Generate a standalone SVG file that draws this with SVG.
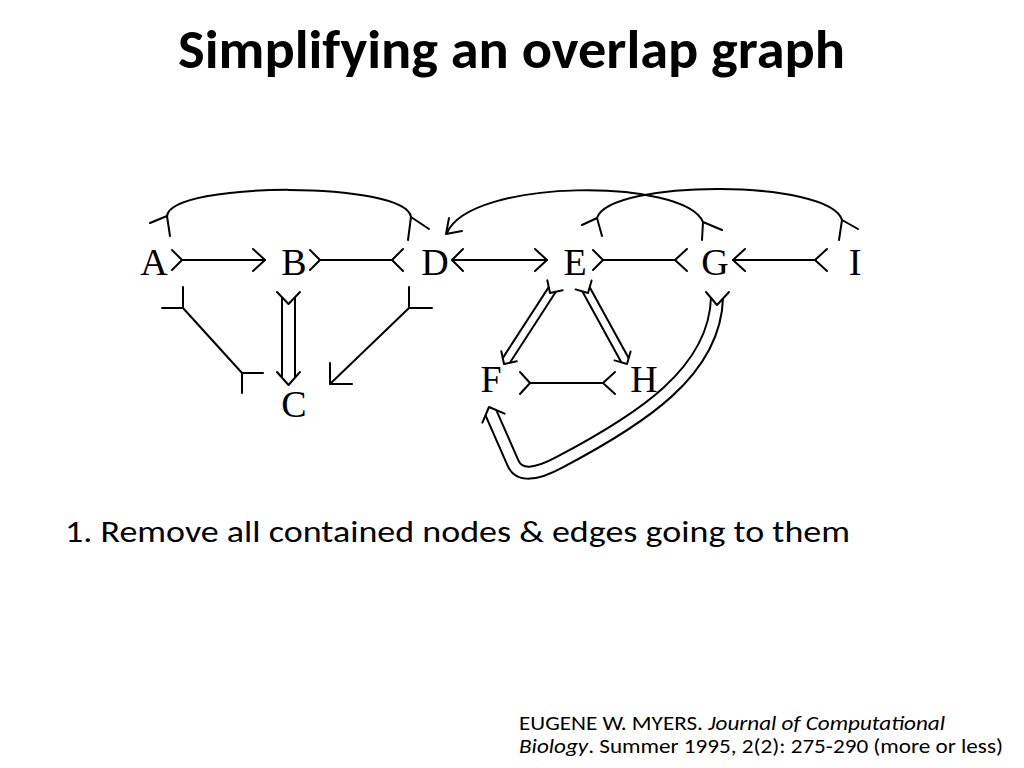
<svg xmlns="http://www.w3.org/2000/svg" width="1024" height="768" viewBox="0 0 1024 768">
<style>
.ln{stroke:#000;stroke-width:2;fill:none;stroke-linecap:round;stroke-linejoin:round}
.dbo{stroke:#000;fill:none;stroke-linecap:butt;stroke-linejoin:round}
.dbi{stroke:#fff;fill:none;stroke-linecap:butt;stroke-linejoin:round}
.node{font-family:"Liberation Serif","Times New Roman",serif;font-size:38px;text-anchor:middle;fill:#000}
.sans{font-family:Carlito,Lato,"Open Sans",sans-serif;fill:#000}
</style>
<rect width="1024" height="768" fill="#fff"/>
<text class="sans" x="178" y="68" font-size="54" font-weight="bold" textLength="667" lengthAdjust="spacingAndGlyphs">Simplifying an overlap graph</text>

<g id="connectors">
  <g id="edge-B-C">
    <path class="dbo" stroke-width="15" d="M288.5,297 L288.5,378"/>
    <path class="dbi" stroke-width="11" d="M288.5,296.5 L288.5,378.5"/>
    <polyline class="ln" points="277,292 288.5,304 300,292"/>
    <polyline class="ln" points="277,372 288.5,385 300,372"/>
  </g>
  <g id="edge-E-F">
    <path class="dbo" stroke-width="10.5" d="M552.3,289.4 L506.3,360.4"/>
    <path class="dbi" stroke-width="6.5" d="M552.6,288.9 L506,360.9"/>
    <polyline class="ln" points="547.3,280.3 550,293 562.7,290.3"/>
    <polyline class="ln" points="501.3,351.3 504,364 516.7,361.3"/>
  </g>
  <g id="edge-E-H">
    <path class="dbo" stroke-width="10.5" d="M586,289.3 L625,360.3"/>
    <path class="dbi" stroke-width="6.5" d="M585.7,288.8 L625.3,360.8"/>
    <polyline class="ln" points="591.6,280.5 588,293 575.5,289.4"/>
    <polyline class="ln" points="630.6,351.5 627,364 614.5,360.4"/>
  </g>
  <g id="edge-G-F">
    <path class="dbo" stroke-width="14" d="M717,298 C715,372 640,420 560,462 C536,475 519,477 513,463 L491,413"/>
    <path class="dbi" stroke-width="10" d="M717,297.5 C715,372 640,420 560,462 C536,475 519,477 513,463 L490.8,412.5"/>
    <polyline class="ln" points="706,292 717,305 729,292"/>
    <polyline class="ln" points="482.4,422.6 489,407 504.6,413.6"/>
  </g>

  <g id="edge-A-B">
    <polyline class="ln" points="172,250 182,260 172,270"/>
    <line class="ln" x1="182" y1="260" x2="265" y2="260"/>
    <polyline class="ln" points="253,249 265,260 253,271"/>
  </g>
  <g id="edge-B-D">
    <polyline class="ln" points="310,250 320,260 310,270"/>
    <line class="ln" x1="320" y1="260" x2="392" y2="260"/>
    <polyline class="ln" points="403,249 392,260 403,271"/>
  </g>
  <g id="edge-D-E">
    <polyline class="ln" points="463,249 452,260 463,271"/>
    <line class="ln" x1="452" y1="260" x2="547" y2="260"/>
    <polyline class="ln" points="535,249 547,260 535,271"/>
  </g>
  <g id="edge-E-G">
    <polyline class="ln" points="593,250 603,260 593,270"/>
    <line class="ln" x1="603" y1="260" x2="675" y2="260"/>
    <polyline class="ln" points="687,249 675,260 687,271"/>
  </g>
  <g id="edge-I-G">
    <polyline class="ln" points="745,249 733,260 745,271"/>
    <line class="ln" x1="733" y1="260" x2="815" y2="260"/>
    <polyline class="ln" points="827,249 815,260 827,271"/>
  </g>
  <g id="edge-F-H">
    <polyline class="ln" points="520,372 530,383 520,394"/>
    <line class="ln" x1="530" y1="383" x2="603" y2="383"/>
    <polyline class="ln" points="615,372 603,383 615,394"/>
  </g>
  <g id="edge-A-D">
    <path class="ln" d="M167,216 C172,181 406,181 411,217"/>
    <polyline class="ln" points="170,236 167,216 150,223"/>
    <polyline class="ln" points="408,240 411,217 429,229"/>
  </g>
  <g id="edge-G-D">
    <path class="ln" d="M703,222 C685,178 470,178 447,233"/>
    <polyline class="ln" points="702,240 703,222 722,230"/>
    <polyline class="ln" points="449,218 446,234 462,231"/>
  </g>
  <g id="edge-E-I">
    <path class="ln" d="M597,218 C610,179 830,179 842,220"/>
    <polyline class="ln" points="602,236 597,218 582,225"/>
    <polyline class="ln" points="839,240 842,220 858,229"/>
  </g>
  <g id="edge-A-C">
    <polyline class="ln" points="183,287 183,308 162,308"/>
    <line class="ln" x1="183" y1="308" x2="242" y2="373"/>
    <polyline class="ln" points="242,393 242,373 263,373"/>
  </g>
  <g id="edge-D-C">
    <polyline class="ln" points="409,287 409,308 432,308"/>
    <line class="ln" x1="409" y1="308" x2="330" y2="384"/>
    <polyline class="ln" points="330,363 330,384 352,384"/>
  </g>
</g>

<g id="node-A"><text class="node" x="154" y="275">A</text></g>
<g id="node-B"><text class="node" x="294" y="275">B</text></g>
<g id="node-C"><text class="node" x="294" y="417">C</text></g>
<g id="node-D"><text class="node" x="435" y="275">D</text></g>
<g id="node-E"><text class="node" x="575" y="275">E</text></g>
<g id="node-G"><text class="node" x="715" y="275">G</text></g>
<g id="node-I"><text class="node" x="855" y="275">I</text></g>
<g id="node-F"><text class="node" x="491" y="392">F</text></g>
<g id="node-H"><text class="node" x="644" y="392">H</text></g>

<text class="sans" x="65" y="542" font-size="31" textLength="785" lengthAdjust="spacingAndGlyphs">1. Remove all contained nodes &amp; edges going to them</text>

<text class="sans" x="519" y="730" font-size="20" textLength="426" lengthAdjust="spacingAndGlyphs">EUGENE W. MYERS. <tspan font-style="italic">Journal of Computational</tspan></text>
<text class="sans" x="519" y="753" font-size="20" textLength="484" lengthAdjust="spacingAndGlyphs"><tspan font-style="italic">Biology</tspan>. Summer 1995, 2(2): 275-290 (more or less)</text>
</svg>
